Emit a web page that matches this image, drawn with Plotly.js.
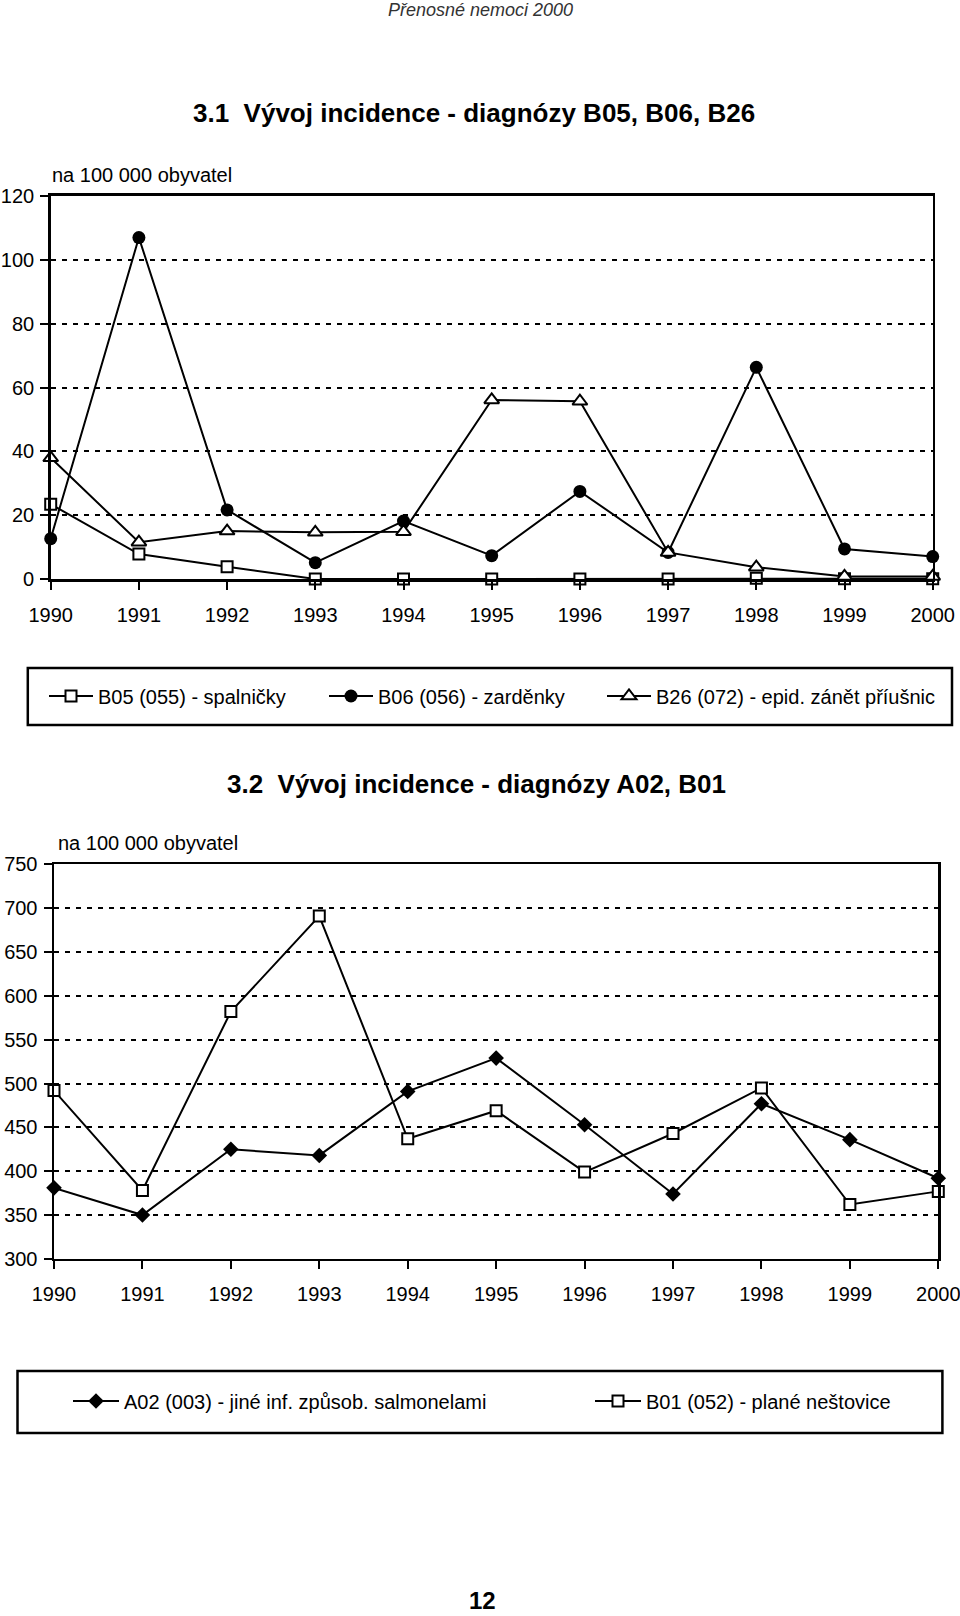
<!DOCTYPE html>
<html>
<head>
<meta charset="utf-8">
<script src="https://cdn.plot.ly/plotly-3.0.1.min.js"></script>
<style>
  html, body { margin: 0; padding: 0; background: #fff; }
  #chart { width: 960px; height: 1616px; }
</style>
</head>
<body>
<div id="chart"></div>
<script>
// ---- data ----
const years = [1990, 1991, 1992, 1993, 1994, 1995, 1996, 1997, 1998, 1999, 2000];
const yearLabels = ["1990", "1991", "1992", "1993", "1994", "1995", "1996", "1997", "1998", "1999", "2000"];

// Chart 3.1 (na 100 000 obyvatel)
const b05 = [23.5, 7.9, 3.9, 0.1, 0.1, 0.1, 0.1, 0.1, 0.3, 0.2, 0.2];
const b06 = [12.7, 106.9, 21.7, 5.2, 18.2, 7.4, 27.5, 8.4, 66.3, 9.5, 7.1];
const b26 = [38.0, 11.6, 15.1, 14.7, 14.9, 56.1, 55.7, 8.4, 3.8, 0.9, 0.9];

// Chart 3.2 (na 100 000 obyvatel)
const a02 = [381, 350, 425, 418, 491, 529, 453, 374, 477, 436, 392];
const b01 = [492, 378, 582, 691, 437, 469, 399, 443, 495, 362, 377];

const names1 = ["B05 (055) - spalničky", "B06 (056) - zarděnky", "B26 (072) - epid. zánět příušnic"];
const names2 = ["A02 (003) - jiné inf. způsob. salmonelami", "B01 (052) - plané neštovice"];
const yTicks1 = [0, 20, 40, 60, 80, 100, 120];
const yTicks2 = [300, 350, 400, 450, 500, 550, 600, 650, 700, 750];

// ---- layout helpers (page pixel -> paper fraction) ----
const W = 960, H = 1616;
const px = x => x / W;
const py = y => 1 - y / H;
const FONT = "Liberation Sans, Arial, Helvetica, sans-serif";

const lineStyle = { color: "black", width: 2 };

const traces = [
  { x: years, y: b05, name: names1[0], xaxis: "x", yaxis: "y", legend: "legend",
    mode: "lines+markers", line: lineStyle, cliponaxis: false,
    marker: { symbol: "square", size: 11, color: "white", line: { color: "black", width: 2 } } },
  { x: years, y: b06, name: names1[1], xaxis: "x", yaxis: "y", legend: "legend2",
    mode: "lines+markers", line: lineStyle, cliponaxis: false,
    marker: { symbol: "circle", size: 13, color: "black" } },
  { x: years, y: b26, name: names1[2], xaxis: "x", yaxis: "y", legend: "legend3",
    mode: "lines+markers", line: lineStyle, cliponaxis: false,
    marker: { symbol: "triangle-up", size: 13, color: "white", line: { color: "black", width: 2 } } },
  { x: years, y: a02, name: names2[0], xaxis: "x2", yaxis: "y2", legend: "legend4",
    mode: "lines+markers", line: lineStyle, cliponaxis: false,
    marker: { symbol: "diamond", size: 12, color: "black" } },
  { x: years, y: b01, name: names2[1], xaxis: "x2", yaxis: "y2", legend: "legend5",
    mode: "lines+markers", line: lineStyle, cliponaxis: false,
    marker: { symbol: "square", size: 11, color: "white", line: { color: "black", width: 2 } } }
];

function xAxis(domain, anchor) {
  return {
    domain: domain, anchor: anchor, range: [1990, 2000],
    tickvals: years, ticktext: yearLabels,
    ticks: "outside", ticklen: 8, tickwidth: 2, tickcolor: "black",
    showline: true, linewidth: 2.5, linecolor: "black", mirror: true,
    showgrid: false, zeroline: false, fixedrange: true,
    tickfont: { family: FONT, size: 20, color: "black" },
    ticklabelstandoff: 8, ticklabeloverflow: "allow"
  };
}
function yAxis(domain, anchor, range, ticks) {
  return {
    domain: domain, anchor: anchor, range: range,
    tickvals: ticks, ticktext: ticks.map(String),
    ticks: "outside", ticklen: 8, tickwidth: 2, tickcolor: "black",
    showline: true, linewidth: 2.5, linecolor: "black", mirror: true,
    showgrid: true, gridcolor: "black", gridwidth: 2, griddash: "5px,6px",
    zeroline: false, fixedrange: true,
    tickfont: { family: FONT, size: 20, color: "black" },
    ticklabelstandoff: 2, ticklabeloverflow: "allow"
  };
}
function legendAt(x, y, iw) {
  return {
    x: px(x), xanchor: "left", y: py(y), yanchor: "middle",
    orientation: "h", bgcolor: "rgba(0,0,0,0)", borderwidth: 0,
    itemwidth: iw, font: { family: FONT, size: 20, color: "black" }
  };
}

const layout = {
  width: W, height: H,
  margin: { l: 0, r: 0, t: 0, b: 0 },
  paper_bgcolor: "white", plot_bgcolor: "white",
  showlegend: true,
  xaxis: xAxis([px(50.7), px(932.7)], "y"),
  yaxis: yAxis([py(579.3), py(195.7)], "x", [0, 120], yTicks1),
  xaxis2: xAxis([px(54), px(938.3)], "y2"),
  yaxis2: yAxis([py(1258.9), py(864.3)], "x2", [300, 750], yTicks2),
  legend: legendAt(44, 696, 44),
  legend2: legendAt(324, 696, 44),
  legend3: legendAt(602, 696, 44),
  legend4: legendAt(68, 1401, 46),
  legend5: legendAt(590, 1401, 46),
  shapes: [
    { type: "rect", xref: "paper", yref: "paper", x0: px(27.8), x1: px(952), y0: py(668), y1: py(725),
      line: { color: "black", width: 2.5 }, fillcolor: "rgba(0,0,0,0)", layer: "below" },
    { type: "rect", xref: "paper", yref: "paper", x0: px(17.5), x1: px(942.4), y0: py(1371), y1: py(1433),
      line: { color: "black", width: 2.5 }, fillcolor: "rgba(0,0,0,0)", layer: "below" }
  ],
  annotations: [
    { text: "<i>Přenosné nemoci 2000</i>", xref: "paper", yref: "paper", x: px(480), y: py(10),
      xanchor: "center", yanchor: "middle", showarrow: false,
      font: { family: FONT, size: 18, color: "#333" } },
    { text: "<b>3.1  Vývoj incidence - diagnózy B05, B06, B26</b>", xref: "paper", yref: "paper",
      x: px(474), y: py(113), xanchor: "center", yanchor: "middle", showarrow: false,
      font: { family: FONT, size: 26, color: "black" } },
    { text: "na 100 000 obyvatel", xref: "paper", yref: "paper", x: px(50), y: py(175),
      xanchor: "left", yanchor: "middle", showarrow: false,
      font: { family: FONT, size: 20, color: "black" } },
    { text: "<b>3.2  Vývoj incidence - diagnózy A02, B01</b>", xref: "paper", yref: "paper",
      x: px(476), y: py(784), xanchor: "center", yanchor: "middle", showarrow: false,
      font: { family: FONT, size: 26, color: "black" } },
    { text: "na 100 000 obyvatel", xref: "paper", yref: "paper", x: px(56), y: py(843),
      xanchor: "left", yanchor: "middle", showarrow: false,
      font: { family: FONT, size: 20, color: "black" } },
    { text: "<b>12</b>", xref: "paper", yref: "paper", x: px(482), y: 0,
      xanchor: "center", yanchor: "bottom", showarrow: false,
      font: { family: FONT, size: 24, color: "black" } }
  ]
};

Plotly.newPlot("chart", traces, layout, { displayModeBar: false, staticPlot: true });
</script>
</body>
</html>
